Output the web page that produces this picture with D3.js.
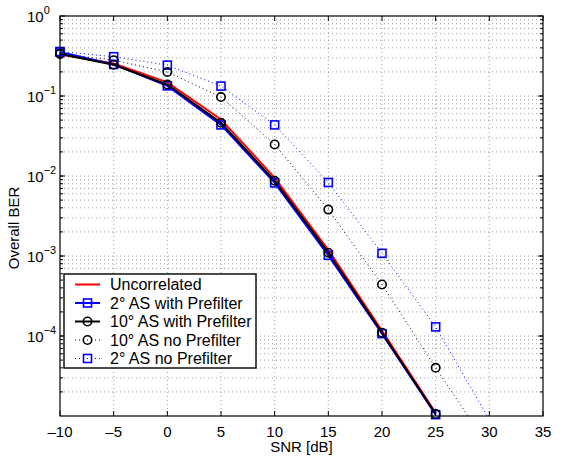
<!DOCTYPE html>
<html><head><meta charset="utf-8">
<script src="https://cdn.jsdelivr.net/npm/d3@7"></script>
<style>
body{margin:0;background:#fff;}
text{font-family:"Liberation Sans",Arial,Helvetica,sans-serif;fill:#000;}
</style></head>
<body>
<svg id="chart" width="583" height="457"></svg>
<script>
// ---- data ----
const snr = [-10, -5, 0, 5, 10, 15, 20, 25];
const snrExt = [-10, -5, 0, 5, 10, 15, 20, 25, 30];
const berUncorrelated = [0.33, 0.255, 0.148, 0.051, 0.0095, 0.00119, 0.000116, 1.1e-5];
const ber2With = [0.355, 0.248, 0.134, 0.0435, 0.0082, 0.00102, 0.000107, 1.04e-5];
const ber10With = [0.335, 0.246, 0.139, 0.0462, 0.0087, 0.0011, 0.00011, 1.06e-5];
const ber10No = [0.34, 0.28, 0.2, 0.097, 0.0248, 0.0038, 0.00044, 4.0e-5, 4.0e-6];
const ber2No = [0.36, 0.31, 0.243, 0.133, 0.0435, 0.0083, 0.00108, 0.00013, 9.0e-6];
const xTicks = [-10, -5, 0, 5, 10, 15, 20, 25, 30, 35];
const yTickExps = [0, -1, -2, -3, -4];
const legendLabels = ["Uncorrelated", "2\u00b0 AS with Prefilter", "10\u00b0 AS with Prefilter", "10\u00b0 AS no Prefilter", "2\u00b0 AS no Prefilter"];

const L = 60, R = 543, T = 16, B = 416;
const svg = d3.select("#chart");
const x = d3.scaleLinear().domain([-10, 35]).range([L, R]);
const y = d3.scaleLog().domain([1e-5, 1]).range([B, T]);

// grid
const grid = svg.append("g").attr("stroke", "#888").attr("stroke-width", 0.8).attr("stroke-dasharray", "1,3");
xTicks.slice(1, -1).forEach(t => grid.append("line").attr("x1", x(t)).attr("x2", x(t)).attr("y1", T).attr("y2", B));
const minorY = [];
for (let e = -5; e < 0; e++) for (let m = 1; m <= 9; m++) { const v = m * Math.pow(10, e); if (v > 1e-5 && v < 1) minorY.push(v); }
minorY.forEach(v => grid.append("line").attr("x1", L).attr("x2", R).attr("y1", y(v)).attr("y2", y(v)));

// clip
svg.append("clipPath").attr("id", "clip").append("rect").attr("x", L).attr("y", T).attr("width", R - L).attr("height", B - T);
const plot = svg.append("g").attr("clip-path", "url(#clip)");

const line = d3.line().x(d => x(d[0])).y(d => y(d[1]));
function zipS(xs, ys) { return ys.map((v, i) => [xs[i], v]); }

const series = [
  {data: zipS(snrExt, ber2No), color: "#0000ff", width: 1, dash: "1,3", marker: "square"},
  {data: zipS(snrExt, ber10No), color: "#000000", width: 1, dash: "1,3", marker: "circle"},
  {data: zipS(snr, berUncorrelated), color: "#ff0000", width: 2, dash: null, marker: null},
  {data: zipS(snr, ber2With), color: "#0000ff", width: 2, dash: null, marker: "square"},
  {data: zipS(snr, ber10With), color: "#000000", width: 2, dash: null, marker: "circle"}
];
const legendOrder = [2, 3, 4, 1, 0];

function drawMarker(g, type, cx, cy, color) {
  if (type === "square") g.append("rect").attr("x", cx - 4).attr("y", cy - 4).attr("width", 8).attr("height", 8)
    .attr("fill", "none").attr("stroke", color).attr("stroke-width", 1.6);
  else if (type === "circle") g.append("circle").attr("cx", cx).attr("cy", cy).attr("r", 4.2)
    .attr("fill", "none").attr("stroke", color).attr("stroke-width", 1.6);
}

series.forEach(s => {
  plot.append("path").datum(s.data).attr("d", line).attr("fill", "none")
    .attr("stroke", s.color).attr("stroke-width", s.width).attr("stroke-dasharray", s.dash);
});
series.forEach(s => {
  if (!s.marker) return;
  s.data.filter(d => d[1] >= 1e-5).forEach(d => drawMarker(svg, s.marker, x(d[0]), y(d[1]), s.color));
});

// axes box
svg.append("rect").attr("x", L).attr("y", T).attr("width", R - L).attr("height", B - T)
  .attr("fill", "none").attr("stroke", "#000").attr("stroke-width", 1.2);

// ticks
const tk = svg.append("g").attr("stroke", "#000").attr("stroke-width", 1);
xTicks.forEach(t => {
  tk.append("line").attr("x1", x(t)).attr("x2", x(t)).attr("y1", B).attr("y2", B - 5);
  tk.append("line").attr("x1", x(t)).attr("x2", x(t)).attr("y1", T).attr("y2", T + 5);
});
yTickExps.forEach(e => {
  const v = Math.pow(10, e);
  tk.append("line").attr("x1", L).attr("x2", L + 5).attr("y1", y(v)).attr("y2", y(v));
  tk.append("line").attr("x1", R).attr("x2", R - 5).attr("y1", y(v)).attr("y2", y(v));
});
minorY.forEach(v => {
  tk.append("line").attr("x1", L).attr("x2", L + 3).attr("y1", y(v)).attr("y2", y(v));
  tk.append("line").attr("x1", R).attr("x2", R - 3).attr("y1", y(v)).attr("y2", y(v));
});

// tick labels
xTicks.forEach(t => {
  svg.append("text").attr("x", x(t)).attr("y", B + 21).attr("text-anchor", "middle")
    .attr("font-size", 15).text(t < 0 ? "\u2013" + Math.abs(t) : String(t));
});
yTickExps.forEach(e => {
  const ty = y(Math.pow(10, e));
  const t = svg.append("text").attr("x", 27).attr("y", ty + 5.5).attr("font-size", 15);
  t.append("tspan").text("10");
  t.append("tspan").attr("font-size", 11).attr("dy", -8).text(e === 0 ? "0" : "\u2212" + Math.abs(e));
});

// axis labels
svg.append("text").attr("x", (L + R) / 2).attr("y", 452).attr("text-anchor", "middle").attr("font-size", 15).text("SNR [dB]");
svg.append("text").attr("transform", `translate(19,228) rotate(-90)`).attr("text-anchor", "middle")
  .attr("font-size", 15).text("Overall BER");

// legend
const lg = svg.append("g");
lg.append("rect").attr("x", 64).attr("y", 274).attr("width", 192).attr("height", 94)
  .attr("fill", "#fff").attr("stroke", "#000").attr("stroke-width", 1.4);
legendOrder.forEach((si, i) => {
  const s = series[si];
  const cy = 284.5 + i * 18.5;
  lg.append("line").attr("x1", 75).attr("x2", 100).attr("y1", cy).attr("y2", cy)
    .attr("stroke", s.color).attr("stroke-width", s.width).attr("stroke-dasharray", s.dash);
  if (s.marker) drawMarker(lg, s.marker, 87.5, cy, s.color);
  lg.append("text").attr("x", 110).attr("y", cy + 5.5).attr("font-size", 16).text(legendLabels[i]);
});
</script>
</body></html>
